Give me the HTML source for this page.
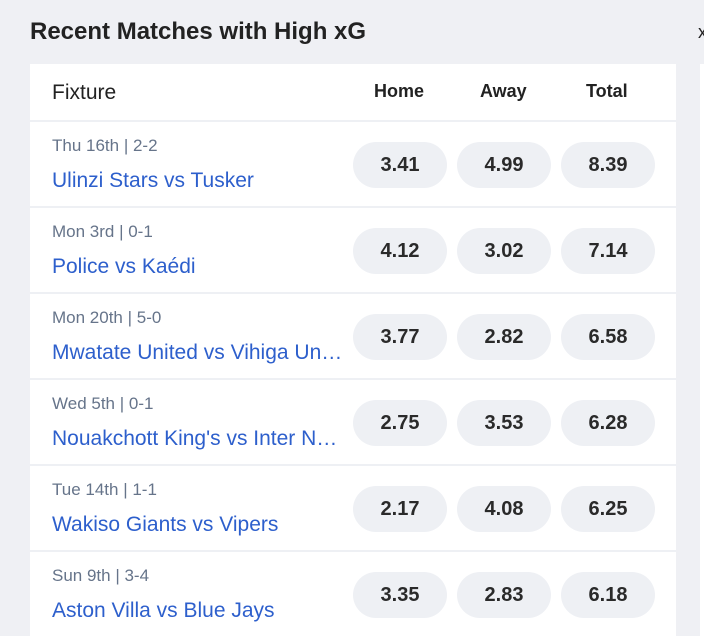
<!DOCTYPE html>
<html><head><meta charset="utf-8"><style>
html,body{margin:0;width:704px;height:636px;overflow:hidden}
body{background:#eff0f4;font-family:"Liberation Sans",sans-serif;position:relative}
.title{position:absolute;left:30px;top:18px;font-size:24px;font-weight:bold;color:#222;letter-spacing:0px}
.card{position:absolute;left:30px;top:64px;width:646px;height:572px;background:#fff;overflow:hidden}
.hdr{position:absolute;top:0;left:0;width:646px;height:56px;border-bottom:2px solid #eef0f4;font-size:18px;color:#222}
.hdr span{position:absolute;top:17px}
.row{position:absolute;left:0;width:646px;height:84px;border-bottom:2px solid #eef0f4}
.date{position:absolute;left:22px;top:14px;font-size:17px;color:#66748a}
.name{position:absolute;left:22px;top:47px;font-size:21px;color:#2d5fcc;width:292px;white-space:nowrap;overflow:hidden;text-overflow:ellipsis}
.pill{position:absolute;top:20px;width:94px;height:46px;border-radius:23px;background:#eef0f4;font-size:20px;font-weight:bold;color:#2a2a2a;text-align:center;line-height:46px}
.edge{position:absolute;left:700px;top:64px;width:4px;height:572px;background:#fff}
</style></head><body>
<div class="title">Recent Matches with High xG</div>
<div style="position:absolute;left:698px;top:22px;font-size:18px;color:#222">x</div>
<div class="edge"></div>
<div class="card">
<div class="hdr">
<span style="left:22px;font-size:21px">Fixture</span>
<span style="left:344px;font-weight:bold">Home</span>
<span style="left:450px;font-weight:bold">Away</span>
<span style="left:556px;font-weight:bold">Total</span>
</div>
<div id="rows"></div>
</div>
<script>
const dates=["Thu 16th | 2-2","Mon 3rd | 0-1","Mon 20th | 5-0","Wed 5th | 0-1","Tue 14th | 1-1","Sun 9th | 3-4"];
const fixtures=["Ulinzi Stars vs Tusker","Police vs Kaédi","Mwatate United vs Vihiga United","Nouakchott King's vs Inter Nouakchott","Wakiso Giants vs Vipers","Aston Villa vs Blue Jays"];
const home=["3.41","4.12","3.77","2.75","2.17","3.35"];
const away=["4.99","3.02","2.82","3.53","4.08","2.83"];
const total=["8.39","7.14","6.58","6.28","6.25","6.18"];
const c=document.getElementById('rows');
for(let i=0;i<dates.length;i++){
const r=document.createElement('div');r.className='row';r.style.top=(58+i*86)+'px';


const d=document.createElement('div');d.className='date';d.textContent=dates[i];


const n=document.createElement('div');n.className='name';n.textContent=fixtures[i];


r.appendChild(d);r.appendChild(n);
const vals=[home[i],away[i],total[i]],names=['home-xg-pill','away-xg-pill','total-xg-pill'];
for(let j=0;j<3;j++){const p=document.createElement('div');p.className='pill';p.style.left=(323+j*104)+'px';p.textContent=vals[j];


r.appendChild(p);}
c.appendChild(r);}
</script>
</body></html>
